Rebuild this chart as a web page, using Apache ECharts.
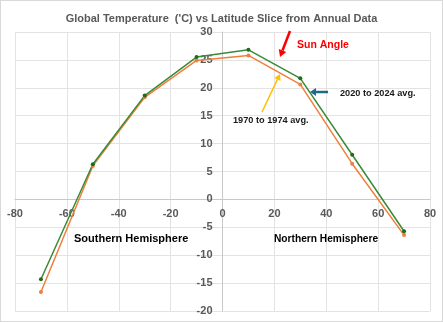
<!DOCTYPE html>
<html><head><meta charset="utf-8">
<script src="https://cdn.jsdelivr.net/npm/echarts@6/dist/echarts.min.js"></script>
<style>html,body{margin:0;padding:0;background:#fff}#c{width:441px;height:320px;border:1px solid #d9d9d9}</style>
</head><body><div id="c"></div>
<script>
const latitudes = [-70, -50, -30, -10, 10, 30, 50, 70];
const temps2020 = [-14.3, 6.3, 18.6, 25.5, 26.8, 21.7, 8.0, -5.7];
const temps1970 = [-16.6, 6.0, 18.3, 24.9, 25.8, 20.6, 6.4, -6.4];
const name2020 = '2020 to 2024 avg.';
const name1970 = '1970 to 1974 avg.';
const titleText = "Global Temperature  ('C) vs Latitude Slice from Annual Data";

const chart = echarts.init(document.getElementById('c'));
const F = "'Liberation Sans', Arial, sans-serif";
const G = {left:14, right:12, top:31, bottom:10};
const plotW = 441 - G.left - G.right, plotH = 320 - G.top - G.bottom;
function arrow(x1,y1,x2,y2,color,w,hl,hw){
  const dx=x2-x1, dy=y2-y1, L=Math.hypot(dx,dy), ux=dx/L, uy=dy/L;
  const bx=x2-ux*hl, by=y2-uy*hl, px=-uy, py=ux;
  return [
    {type:'line',shape:{x1:x1,y1:y1,x2:bx,y2:by},style:{stroke:color,lineWidth:w},z:100},
    {type:'polygon',shape:{points:[[x2,y2],[bx+px*hw,by+py*hw],[bx-px*hw,by-py*hw]]},style:{fill:color},z:100}
  ];
}
const txt=(x,y,t,color,size)=>({type:'text',x:x,y:y,style:{text:t,fill:color,font:'bold '+size+'px '+F,textVerticalAlign:'middle'},z:100});

chart.setOption({
  animation:false,
  title:{text:titleText,left:'center',top:7,textStyle:{fontFamily:F,fontSize:11,fontWeight:'bold',color:'#595959'}},
  grid:Object.assign({containLabel:false,outerBoundsMode:'none'},G),
  xAxis:{type:'value',min:-80,max:80,interval:20,position:'bottom',offset:-(plotH*20/50),
    axisLine:{onZero:false,lineStyle:{color:'#c8c8c8'}},axisTick:{show:false},
    axisLabel:{color:'#595959',fontFamily:F,fontSize:11,fontWeight:'bold',margin:9},
    splitLine:{lineStyle:{color:'#e3e3e3'}}},
  yAxis:{type:'value',min:-20,max:30,interval:5,position:'left',offset:-(plotW*80/160),
    axisLine:{show:true,onZero:false,lineStyle:{color:'#c8c8c8'}},axisTick:{show:false},
    axisLabel:{color:'#595959',fontFamily:F,fontSize:11,fontWeight:'bold',margin:10},
    splitLine:{lineStyle:{color:'#e3e3e3'}}},
  series:[
    {name:name1970,type:'line',data:latitudes.map((x,i)=>[x,temps1970[i]]),symbol:'circle',symbolSize:4,
      lineStyle:{color:'#f07f3c',width:1.5},itemStyle:{color:'#f07f3c'}},
    {name:name2020,type:'line',data:latitudes.map((x,i)=>[x,temps2020[i]]),symbol:'circle',symbolSize:4,
      lineStyle:{color:'#3a8a3a',width:1.5},itemStyle:{color:'#1e6b1e'}}
  ],
  graphic:[].concat(
    arrow(289,30,279,56,'#ff0000',2.5,7,4),
    arrow(327,91,309,91,'#1f6a8a',2.5,6,4),
    arrow(261,111,279,73,'#ffc000',1.5,6,3.5),
    [txt(296,44,'Sun Angle','#ff0000',10.5),
     txt(339,92,name2020,'#1a1a1a',9.2),
     txt(232,119,name1970,'#1a1a1a',9.2),
     txt(73,238,'Southern Hemisphere','#000000',11),
     txt(273,238,'Northern Hemisphere','#000000',10.2)]
  )
});
</script></body></html>
